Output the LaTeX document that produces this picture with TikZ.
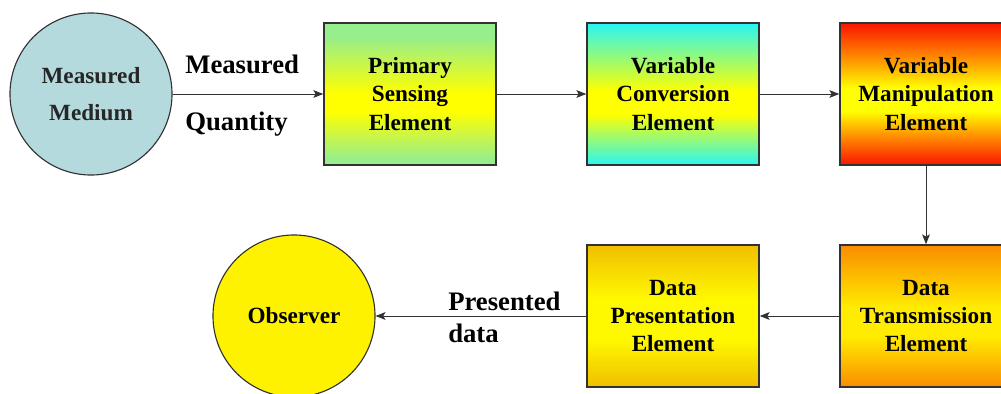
\documentclass[tikz,border=0pt]{standalone}
\usepackage{fontspec}
\setmainfont{Liberation Serif}
\usetikzlibrary{arrows.meta}

\definecolor{mediumfill}{RGB}{180,218,222}
\definecolor{boxgreen}{RGB}{150,238,140}
\definecolor{boxcyan}{RGB}{40,245,245}
\definecolor{boxred}{RGB}{250,20,0}
\definecolor{boxorange}{RGB}{250,140,0}
\definecolor{boxgold}{RGB}{240,190,0}
\definecolor{linegray}{RGB}{50,50,50}

% vertical bands, yellow in the middle
\pgfdeclareverticalshading{greenband}{100bp}{color(0bp)=(boxgreen); color(27bp)=(boxgreen); color(44bp)=(yellow); color(50bp)=(yellow); color(70bp)=(boxgreen); color(100bp)=(boxgreen)}
\pgfdeclareverticalshading{cyanband}{100bp}{color(0bp)=(boxcyan); color(25bp)=(boxcyan); color(43bp)=(yellow); color(51bp)=(yellow); color(75bp)=(boxcyan); color(100bp)=(boxcyan)}
\pgfdeclareverticalshading{redband}{100bp}{color(0bp)=(boxred); color(25bp)=(boxred); color(34bp)=(orange); color(44bp)=(yellow); color(52bp)=(yellow); color(64bp)=(orange); color(75bp)=(boxred); color(100bp)=(boxred)}
\pgfdeclareverticalshading{orangeband}{100bp}{color(0bp)=(boxorange); color(25bp)=(boxorange); color(43bp)=(yellow!85!orange); color(53bp)=(yellow!85!orange); color(75bp)=(boxorange); color(100bp)=(boxorange)}
\pgfdeclareverticalshading{goldband}{100bp}{color(0bp)=(boxgold); color(25bp)=(boxgold); color(42bp)=(yellow!95!orange); color(56bp)=(yellow!95!orange); color(75bp)=(boxgold); color(100bp)=(boxgold)}

\begin{document}
\begin{tikzpicture}[x=0.025cm, y=-0.025cm, >={Stealth[length=7pt, width=5.5pt, inset=1.5pt]},
    block/.style={draw=linegray, line width=1pt, minimum width=4.3cm, minimum height=3.55cm, inner sep=0pt, align=center, font=\bfseries\fontsize{16.5}{20}\selectfont, execute at begin node={\rule{0pt}{17.5pt}}},
    disc/.style={circle, draw=linegray, line width=0.8pt, minimum size=4.05cm, inner sep=0pt, align=center, font=\bfseries\fontsize{16.5}{26}\selectfont},
    flowlabel/.style={anchor=west, inner sep=0pt, font=\bfseries\fontsize{19}{23}\selectfont},
    flow/.style={->, draw=linegray, line width=0.7pt}]

    \useasboundingbox (0,0) rectangle (1001,394);

    % TOP ROW
    \node[disc, fill=mediumfill, text=black!85, execute at begin node={\rule{0pt}{18.5pt}}] (medium) at (91,94) {Measured\\Medium};
    \node[block, shading=greenband] (primary) at (410,94) {Primary\\Sensing\\Element};
    \node[block, shading=cyanband] (conversion) at (673,94) {Variable\\Conversion\\Element};
    \node[block, shading=redband] (manipulation) at (926,94) {Variable\\Manipulation\\Element};

    \node[flowlabel] (quantity1) at (185,64) {Measured};
    \node[flowlabel] (quantity2) at (185,124) {Quantity};

    % BOTTOM ROW
    \node[block, shading=orangeband] (transmission) at (926,316) {Data\\Transmission\\Element};
    \node[block, shading=goldband] (presentation) at (673,316) {Data\\Presentation\\Element};
    \node[disc, fill=yellow] (observer) at (294,316) {Observer};

    \node[flowlabel] (presented1) at (448,301) {Presented};
    \node[flowlabel] (presented2) at (448,333) {data};

    % Arrows
    \draw[flow] (medium.east) -- (primary.west);
    \draw[flow] (primary.east) -- (conversion.west);
    \draw[flow] (conversion.east) -- (manipulation.west);
    \draw[flow] (manipulation.south) -- (transmission.north);
    \draw[flow] (transmission.west) -- (presentation.east);
    \draw[flow] (presentation.west) -- (observer.east);
\end{tikzpicture}
\end{document}
